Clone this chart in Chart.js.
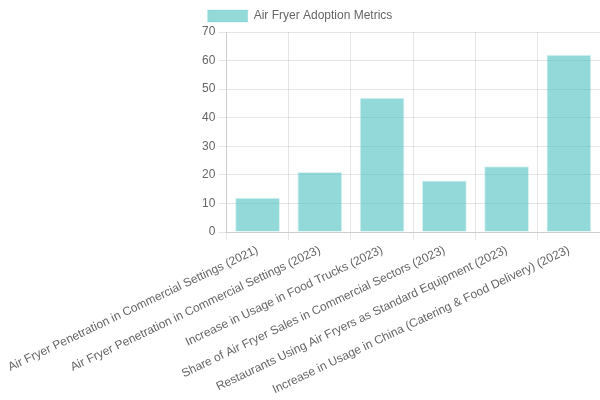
<!DOCTYPE html>
<html>
<head>
<meta charset="utf-8">
<script src="https://cdn.jsdelivr.net/npm/chart.js@4"></script>
<style>
  html, body { margin: 0; padding: 0; background: #fff; }
  #wrap { width: 600px; height: 400px; }
</style>
</head>
<body>
<div id="wrap"><canvas id="chart"></canvas></div>
<script>
const categories = [
    'Air Fryer Penetration in Commercial Settings (2021)',
    'Air Fryer Penetration in Commercial Settings (2023)',
    'Increase in Usage in Food Trucks (2023)',
    'Share of Air Fryer Sales in Commercial Sectors (2023)',
    'Restaurants Using Air Fryers as Standard Equipment (2023)',
    'Increase in Usage in China (Catering & Food Delivery) (2023)'
];
const adoptionValues = [12, 21, 47, 18, 23, 62];
const seriesLabel = 'Air Fryer Adoption Metrics';

const ctx = document.getElementById('chart').getContext('2d');
new Chart(ctx, {
    type: 'bar',
    data: {
        labels: categories,
        datasets: [{
            label: seriesLabel,
            data: adoptionValues,
            backgroundColor: 'rgba(75, 192, 192, 0.6)',
            borderColor: 'rgba(75, 192, 192, 0.2)',
            borderWidth: 1
        }]
    },
    options: {
        responsive: true,
        maintainAspectRatio: false,
        animation: false,
        scales: {
            x: {
                ticks: { minRotation: 25.5, maxRotation: 25.5 },
                // a little extra room left of the first rotated label
                afterFit: function(scale) {
                    scale.paddingLeft += 4;
                }
            },
            y: {
                beginAtZero: true,
                max: 70,
                ticks: { stepSize: 10 }
            }
        }
    }
});
</script>
</body>
</html>
